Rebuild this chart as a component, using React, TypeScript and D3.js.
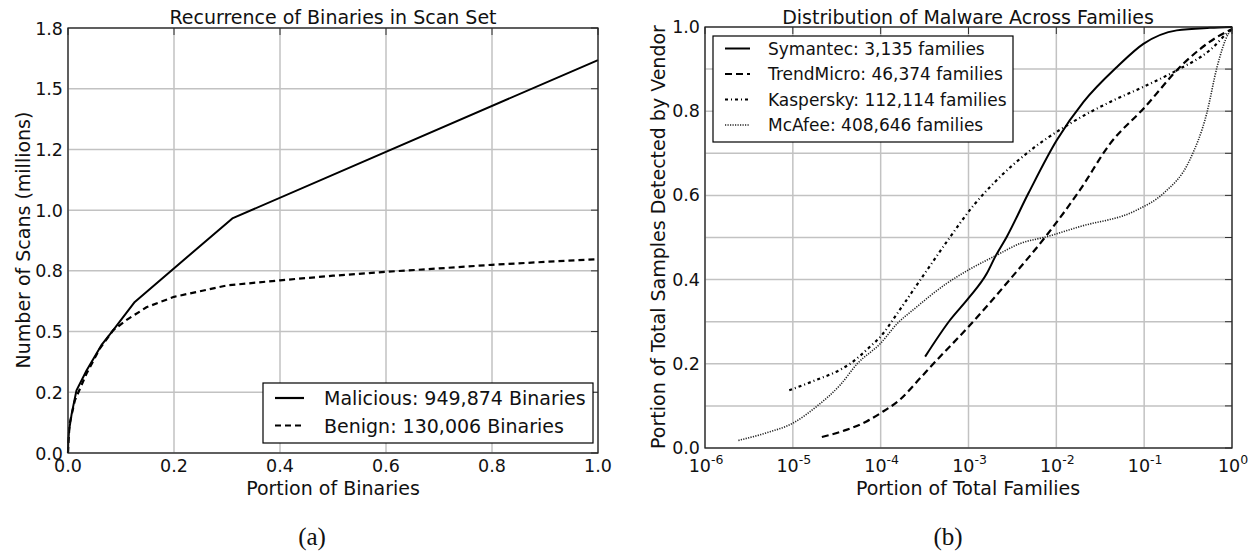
import React from 'react'
import * as d3 from 'd3'

// ---- panel (a): recurrence of binaries ----
const malX = [0, 0.0005, 0.002, 0.007, 0.016, 0.035, 0.063, 0.085, 0.126, 0.31, 1.0]
const malY = [0, 0.045, 0.093, 0.162, 0.258, 0.34, 0.444, 0.505, 0.622, 0.966, 1.618]
const benX = [0, 0.001, 0.003, 0.013, 0.035, 0.06, 0.085, 0.11, 0.148, 0.2, 0.3, 0.4, 0.5, 0.6, 0.7, 0.8, 0.9, 1.0]
const benY = [0, 0.05, 0.12, 0.217, 0.327, 0.43, 0.505, 0.547, 0.6, 0.643, 0.69, 0.711, 0.73, 0.746, 0.76, 0.775, 0.787, 0.798]
const aXTicks = [0, 0.2, 0.4, 0.6, 0.8, 1.0]
const aYTicks = [0, 0.25, 0.5, 0.75, 1.0, 1.25, 1.5, 1.75]
const aYTickLabels = ['0.0', '0.2', '0.5', '0.8', '1.0', '1.2', '1.5', '1.8']
const aLegend = ['Malicious: 949,874 Binaries', 'Benign: 130,006 Binaries']

// ---- panel (b): malware across families ----
const symX = [3.21e-4, 6.17e-4, 1.0e-3, 1.62e-3, 2.01e-3, 2.73e-3, 4.81e-3, 1.01e-2, 2.04e-2, 4.9e-2, 9.8e-2, 0.235, 0.56, 1.0]
const symY = [0.217, 0.304, 0.356, 0.415, 0.454, 0.502, 0.605, 0.731, 0.822, 0.905, 0.96, 0.992, 0.998, 1.0]
const trdX = [2.14e-5, 4.07e-5, 6.9e-5, 1e-4, 1.66e-4, 2.82e-4, 3.98e-4, 1e-3, 2.98e-3, 7.8e-3, 1.86e-2, 4.1e-2, 9.8e-2, 0.28, 0.673, 1.0]
const trdY = [0.026, 0.043, 0.063, 0.083, 0.115, 0.166, 0.2, 0.288, 0.401, 0.506, 0.613, 0.723, 0.806, 0.913, 0.976, 0.995]
const kasX = [9.1e-6, 1.86e-5, 3.47e-5, 4.47e-5, 7.6e-5, 1e-4, 1.55e-4, 2.82e-4, 5.66e-4, 1.15e-3, 2.09e-3, 4.6e-3, 1.44e-2, 4.1e-2, 9.8e-2, 0.235, 0.56, 0.91, 1.0]
const kasY = [0.137, 0.162, 0.186, 0.2, 0.241, 0.265, 0.32, 0.399, 0.49, 0.577, 0.636, 0.70, 0.771, 0.822, 0.858, 0.897, 0.945, 0.988, 0.995]
const mcaX = [2.4e-6, 5.0e-6, 1e-5, 1.9e-5, 3.47e-5, 5.4e-5, 1e-4, 1.55e-4, 2.34e-4, 5.66e-4, 1e-3, 2.09e-3, 3.9e-3, 7.8e-3, 1.86e-2, 8.2e-2, 0.166, 0.33, 0.516, 0.676, 0.91, 1.0]
const mcaY = [0.018, 0.036, 0.059, 0.1, 0.15, 0.2, 0.249, 0.296, 0.328, 0.391, 0.423, 0.458, 0.486, 0.502, 0.526, 0.565, 0.605, 0.684, 0.795, 0.905, 0.984, 0.995]
const bXExps = [-6, -5, -4, -3, -2, -1, 0]
const bYGrid = [0, 0.1, 0.2, 0.3, 0.4, 0.5, 0.6, 0.7, 0.8, 0.9, 1.0]
const bYTicks = [0, 0.2, 0.4, 0.6, 0.8, 1.0]
const bLegend = ['Symantec: 3,135 families', 'TrendMicro: 46,374 families', 'Kaspersky: 112,114 families', 'McAfee: 408,646 families']

const FONT = "'DejaVu Sans', sans-serif"
const SERIF = "'Liberation Serif', serif"
const GRID = '#c2c2c2'
const INK = '#111'
const TICK = 17.5
const LABEL = 19

const zip = (xs: number[], ys: number[]) => xs.map((x, i) => [x, ys[i]] as [number, number])

const styles = [
  { dash: undefined, w: 2, color: '#000' },
  { dash: '7,4', w: 2.2, color: '#000' },
  { dash: '3,3,1,3', w: 2.2, color: '#000' },
  { dash: '1.2,1.3', w: 1.6, color: '#222' },
]

function Frame({ x0, x1, y0, y1 }: any) {
  return <rect x={x0} y={y0} width={x1 - x0} height={y1 - y0} fill="none" stroke="#222" strokeWidth={1.3} />
}

function PanelA() {
  const x = d3.scaleLinear().domain([0, 1]).range([68, 598])
  const y = d3.scaleLinear().domain([0, 1.75]).range([453, 28])
  const line = d3.line<[number, number]>().x(d => x(d[0])).y(d => y(d[1]))
  return (
    <g>
      {aXTicks.map(t => <line key={'gx' + t} x1={x(t)} x2={x(t)} y1={y(0)} y2={y(1.75)} stroke={GRID} strokeWidth={1.5} />)}
      {aYTicks.map(t => <line key={'gy' + t} x1={x(0)} x2={x(1)} y1={y(t)} y2={y(t)} stroke={GRID} strokeWidth={1.5} />)}
      {aYTicks.map(t => <line key={'ty' + t} x1={x(1) - 7} x2={x(1)} y1={y(t)} y2={y(t)} stroke="#333" strokeWidth={1} />)}
      {aXTicks.map(t => <line key={'tx' + t} x1={x(t)} x2={x(t)} y1={y(1.75)} y2={y(1.75) + 7} stroke="#333" strokeWidth={1} />)}
      <path d={line(zip(malX, malY)) || ''} fill="none" stroke="#000" strokeWidth={2} strokeLinejoin="round" />
      <path d={line(zip(benX, benY)) || ''} fill="none" stroke="#000" strokeWidth={2.2} strokeDasharray="6,4" />
      <Frame x0={68} x1={598} y0={28} y1={453} />
      {aXTicks.map(t => (
        <text key={'lx' + t} x={x(t)} y={472} textAnchor="middle" fontSize={TICK} fontFamily={FONT} fill={INK}>{t.toFixed(1)}</text>
      ))}
      {aYTicks.map((t, i) => (
        <text key={'ly' + t} x={63} y={y(t) + 6.5} textAnchor="end" fontSize={TICK} fontFamily={FONT} fill={INK}>{aYTickLabels[i]}</text>
      ))}
      <text x={333} y={24} textAnchor="middle" fontSize={LABEL} fontFamily={FONT} fill={INK}>Recurrence of Binaries in Scan Set</text>
      <text x={333} y={495} textAnchor="middle" fontSize={LABEL} fontFamily={FONT} fill={INK}>Portion of Binaries</text>
      <text transform="translate(30,240) rotate(-90)" textAnchor="middle" fontSize={LABEL} fontFamily={FONT} fill={INK}>Number of Scans (millions)</text>
      <rect x={263} y={383} width={330} height={60} fill="#fff" stroke="#000" strokeWidth={1.2} />
      {aLegend.map((s, i) => (
        <g key={s}>
          <line x1={275} x2={304} y1={398 + i * 27.5} y2={398 + i * 27.5} stroke="#000" strokeWidth={2.2} strokeDasharray={i ? '6,4' : undefined} />
          <text x={324} y={405 + i * 27.5} fontSize={LABEL} fontFamily={FONT} fill={INK}>{s}</text>
        </g>
      ))}
      <text x={312} y={545} textAnchor="middle" fontSize={25} fontFamily={SERIF} fill={INK}>(a)</text>
    </g>
  )
}

function PanelB() {
  const x = d3.scaleLog().domain([1e-6, 1]).range([705, 1232])
  const y = d3.scaleLinear().domain([0, 1]).range([448, 27])
  const line = d3.line<[number, number]>().x(d => x(d[0])).y(d => y(d[1])).curve(d3.curveMonotoneX)
  const series = [zip(symX, symY), zip(trdX, trdY), zip(kasX, kasY), zip(mcaX, mcaY)]
  return (
    <g>
      {bXExps.map(e => <line key={'gx' + e} x1={x(10 ** e)} x2={x(10 ** e)} y1={y(0)} y2={y(1)} stroke={GRID} strokeWidth={1.5} />)}
      {bYGrid.map(t => <line key={'gy' + t} x1={x(1e-6)} x2={x(1)} y1={y(t)} y2={y(t)} stroke={GRID} strokeWidth={1.5} />)}
      {bYGrid.map(t => <line key={'ty' + t} x1={x(1) - 7} x2={x(1)} y1={y(t)} y2={y(t)} stroke="#333" strokeWidth={1} />)}
      {bXExps.map(e => <line key={'tx' + e} x1={x(10 ** e)} x2={x(10 ** e)} y1={y(1)} y2={y(1) + 7} stroke="#333" strokeWidth={1} />)}
      {series.map((s, i) => (
        <path key={i} d={line(s) || ''} fill="none" stroke={styles[i].color} strokeWidth={styles[i].w} strokeDasharray={styles[i].dash} />
      ))}
      <Frame x0={705} x1={1232} y0={27} y1={448} />
      {bXExps.map(e => (
        <text key={'lx' + e} x={x(10 ** e) + 1} y={472} textAnchor="middle" fontSize={TICK} fontFamily={FONT} fill={INK}>
          10<tspan dy={-8} fontSize={12.5}>{String(e)}</tspan>
        </text>
      ))}
      {bYTicks.map(t => (
        <text key={'ly' + t} x={700} y={y(t) + 6} textAnchor="end" fontSize={TICK} fontFamily={FONT} fill={INK}>{t.toFixed(1)}</text>
      ))}
      <text x={968} y={24} textAnchor="middle" fontSize={LABEL} fontFamily={FONT} fill={INK}>Distribution of Malware Across Families</text>
      <text x={968} y={495} textAnchor="middle" fontSize={LABEL} fontFamily={FONT} fill={INK}>Portion of Total Families</text>
      <text transform="translate(665,237) rotate(-90)" textAnchor="middle" fontSize={LABEL} fontFamily={FONT} fill={INK}>Portion of Total Samples Detected by Vendor</text>
      <rect x={713} y={36} width={300} height={106} fill="#fff" stroke="#000" strokeWidth={1.2} />
      {bLegend.map((s, i) => (
        <g key={s}>
          <line x1={725} x2={750} y1={48.5 + i * 25.5} y2={48.5 + i * 25.5} stroke={styles[i].color} strokeWidth={styles[i].w} strokeDasharray={styles[i].dash} />
          <text x={768} y={54.5 + i * 25.5} fontSize={17} fontFamily={FONT} fill={INK}>{s}</text>
        </g>
      ))}
      <text x={948} y={545} textAnchor="middle" fontSize={25} fontFamily={SERIF} fill={INK}>(b)</text>
    </g>
  )
}

export default function App() {
  return (
    <svg width={1256} height={554} style={{ position: 'absolute', left: 0, top: 0, background: '#fff' }}>
      <PanelA />
      <PanelB />
    </svg>
  )
}
